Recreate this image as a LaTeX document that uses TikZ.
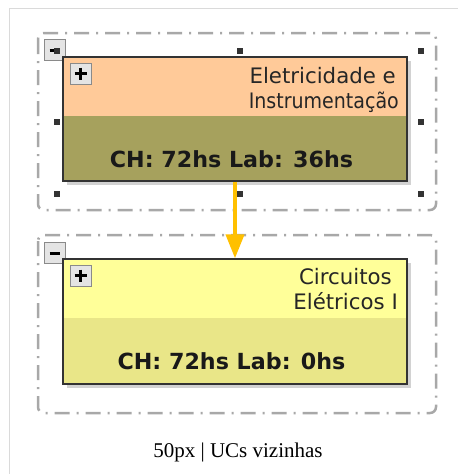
\documentclass[tikz,border=0pt]{standalone}
\usepackage{fontspec}
\setmainfont{DejaVu Sans}
\newfontfamily\capfont{Liberation Serif}
\usetikzlibrary{arrows.meta}
\definecolor{framec}{HTML}{DADADA}
\definecolor{groupc}{HTML}{A8A8A8}
\definecolor{peachc}{HTML}{FFCA99}
\definecolor{olivec}{HTML}{A6A15D}
\definecolor{lemonc}{HTML}{FFFF99}
\definecolor{lemonbodyc}{HTML}{E9E688}
\definecolor{arrowc}{HTML}{FFC000}
\definecolor{borderc}{HTML}{333333}
\definecolor{shadowc}{HTML}{D2D2D2}
\definecolor{btnc}{HTML}{E4E4E4}
\definecolor{btnborderc}{HTML}{8A8A8A}
\definecolor{handlec}{HTML}{333333}
\begin{document}
\begin{tikzpicture}[x=1pt,y=-1pt,
  groupbox/.style={draw=groupc, line width=2.5pt, rounded corners=6pt,
    dash pattern=on 15pt off 7pt on 2pt off 7pt},
  ucbox/.style={draw=borderc, line width=1.3pt, minimum width=344pt, minimum height=124pt, inner sep=0pt},
  btn/.style={draw=btnborderc, fill=btnc, line width=1pt, minimum width=21pt, minimum height=21pt, inner sep=0pt},
  handle/.style={fill=handlec, minimum size=6pt, inner sep=0pt},
  titletxt/.style={font=\fontsize{21.3}{25}\selectfont, inner sep=0pt, anchor=base east, text=black!85},
  chtxt/.style={font=\bfseries\fontsize{22.2}{25}\selectfont, inner sep=0pt, anchor=base, text=black!90},
  signline/.style={line width=3pt, black}
]
\useasboundingbox (0,0) rectangle (458,474);
\fill[white] (0,0) rectangle (458,474);
% outer frame
\draw[framec, line width=1.5pt] (9.5,474) -- (9.5,8.5) -- (458,8.5);
% group boxes
\draw[groupbox] (38,33) rectangle (436,210);
\draw[groupbox] (38,235) rectangle (436,413);
% collapse buttons of the groups
\node[btn] (g1btn) at (54.5,50) {};
\draw[signline] (49.5,50) -- (59.5,50);
\node[btn] (g2btn) at (54.5,253) {};
\draw[signline] (49.5,253) -- (60,253);
% UC 1
\fill[shadowc] (67,61) rectangle (411,185);
\fill[peachc] (63,57) rectangle (407,116);
\fill[olivec] (63,116) rectangle (407,181);
\node[ucbox] (uc1) at (235,119) {};
% UC 2
\fill[shadowc] (67,263) rectangle (411,388);
\fill[lemonc] (63,259) rectangle (407,318);
\fill[lemonbodyc] (63,318) rectangle (407,384);
\node[ucbox, minimum height=125pt] (uc2) at (235,321.5) {};
% expand buttons
\node[btn] (uc1btn) at (80.5,73.5) {};
\draw[signline] (74.5,73.5) -- (86.5,73.5) (80.5,67.5) -- (80.5,79.5);
\node[btn] (uc2btn) at (80.5,275.5) {};
\draw[signline] (74.5,275.5) -- (86.5,275.5) (80.5,269.5) -- (80.5,281.5);
% texts
\node[titletxt] (t1a) at (396,83) {Eletricidade e};
\node[titletxt, xscale=0.893] (t1b) at (399,108) {Instrumentação};
\node[chtxt] (c1) at (231.5,167) {CH: 72hs Lab: 36hs};
\node[titletxt] (t2a) at (392,284) {Circuitos};
\node[titletxt] (t2b) at (398,309) {Elétricos I};
\node[chtxt] (c2) at (231.5,369) {CH: 72hs Lab: 0hs};
% selection handles
\foreach \hx/\hy [count=\i] in {57/51,239.5/51,420.5/51,57/122,420.5/122,57/194,239.5/194,420.5/194}
  \node[handle] (h\i) at (\hx,\hy) {};
% arrow
\draw[arrowc, line width=4pt, -{Triangle[width=18pt,length=24pt]}] (uc1.south) -- (uc2.north);
% caption
\node[font=\capfont\fontsize{21}{25}\selectfont, inner sep=0pt, anchor=base] (cap) at (238,457) {50px | UCs vizinhas};
\end{tikzpicture}
\end{document}
